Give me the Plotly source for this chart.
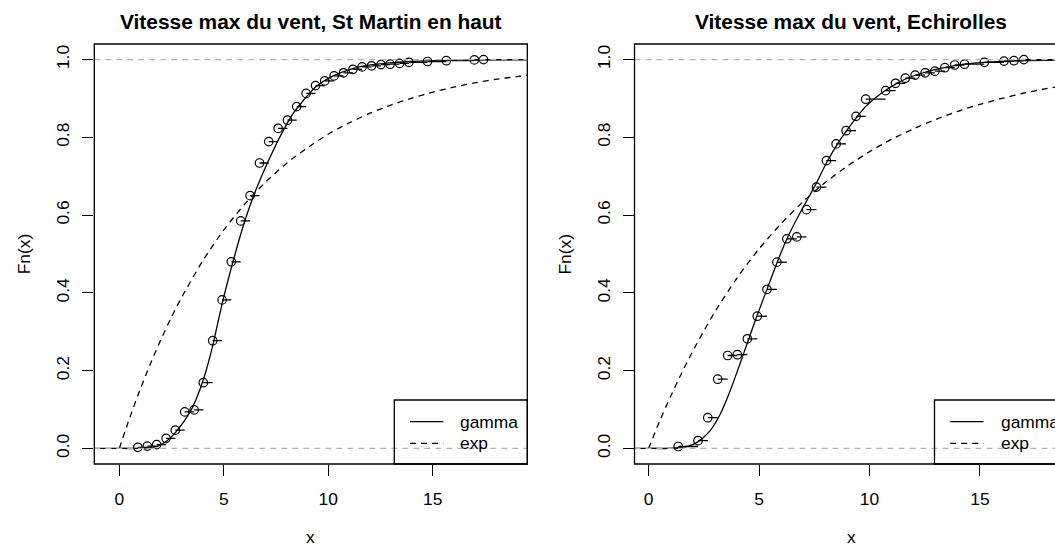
import plotly.graph_objects as go

W, H = 1055, 546

# ---------------- data ----------------
# St Martin en haut : empirical CDF knots and values
sm_x = [0.89, 1.34, 1.79, 2.24, 2.68, 3.13, 3.58, 4.02, 4.47, 4.92, 5.36, 5.81,
        6.26, 6.71, 7.15, 7.60, 8.05, 8.49, 8.94, 9.39, 9.83, 10.28, 10.73, 11.18,
        11.62, 12.07, 12.52, 12.96, 13.41, 13.86, 14.75, 15.65, 16.99, 17.43]
sm_y = [0.003, 0.006, 0.010, 0.026, 0.047, 0.094, 0.099, 0.169, 0.277, 0.382, 0.480, 0.585,
        0.650, 0.734, 0.789, 0.823, 0.844, 0.879, 0.913, 0.933, 0.945, 0.958, 0.966, 0.975,
        0.981, 0.984, 0.987, 0.988, 0.990, 0.993, 0.995, 0.997, 0.999, 1.000]
# fitted gamma CDF (solid)
sm_gamma_x = [0, 0.97, 1.40, 1.85, 2.33, 2.76, 3.37, 3.70, 4.04, 4.46, 4.92, 5.45, 5.96,
              6.36, 6.89, 7.37, 7.85, 8.33, 8.97, 9.45, 10.24, 11.05, 11.85, 12.81, 13.92,
              15.84, 17.44, 20.0]
sm_gamma_y = [0, 0.000, 0.002, 0.006, 0.022, 0.046, 0.092, 0.130, 0.180, 0.262, 0.372, 0.482, 0.577,
              0.640, 0.710, 0.767, 0.818, 0.862, 0.905, 0.932, 0.958, 0.975, 0.985, 0.991, 0.995,
              0.998, 0.999, 1.000]
# fitted exponential CDF (dashed)
sm_exp_x = [0, 0.5, 1, 1.5, 2, 2.5, 3, 4, 5, 6, 7, 8, 9, 10, 11, 12, 13, 14, 15, 16, 17, 18, 19, 20]
sm_exp_y = [0, 0.079, 0.152, 0.219, 0.281, 0.338, 0.390, 0.483, 0.562, 0.628, 0.685, 0.733,
            0.773, 0.808, 0.837, 0.862, 0.883, 0.901, 0.916, 0.929, 0.940, 0.949, 0.956, 0.963]

# Echirolles
ec_x = [1.34, 2.24, 2.68, 3.13, 3.58, 4.02, 4.47, 4.92, 5.36, 5.81, 6.26, 6.71, 7.15, 7.60,
        8.05, 8.49, 8.94, 9.39, 9.83, 10.73, 11.18, 11.62, 12.07, 12.52, 12.96, 13.41,
        13.86, 14.30, 15.20, 16.09, 16.54, 16.99]
ec_y = [0.005, 0.020, 0.079, 0.178, 0.239, 0.241, 0.282, 0.340, 0.409, 0.479, 0.539, 0.544,
        0.614, 0.672, 0.740, 0.783, 0.817, 0.854, 0.898, 0.920, 0.939, 0.952, 0.960, 0.966,
        0.970, 0.979, 0.986, 0.988, 0.993, 0.996, 0.997, 1.000]
ec_gamma_x = [0, 1.00, 1.34, 1.80, 2.18, 2.78, 3.24, 3.69, 4.14, 4.45, 4.90, 5.36, 5.81, 6.27,
              6.71, 7.15, 7.60, 8.05, 8.54, 8.99, 9.37, 9.82, 10.28, 10.73, 11.18, 11.63,
              12.54, 13.43, 14.29, 15.20, 17.00, 19.50]
ec_gamma_y = [0, 0.000, 0.002, 0.006, 0.015, 0.045, 0.088, 0.148, 0.218, 0.268, 0.340, 0.409, 0.477, 0.540,
              0.590, 0.636, 0.683, 0.734, 0.782, 0.819, 0.848, 0.879, 0.902, 0.921, 0.937, 0.950,
              0.968, 0.980, 0.988, 0.993, 0.997, 0.999]
ec_exp_x = [0, 0.5, 1, 1.5, 2, 2.5, 3, 4, 5, 6, 7, 8, 9, 10, 11, 12, 13, 14, 15, 16, 17, 18, 19, 20]
ec_exp_y = [0, 0.070, 0.134, 0.194, 0.250, 0.302, 0.351, 0.438, 0.513, 0.578, 0.635, 0.684,
            0.726, 0.763, 0.795, 0.822, 0.846, 0.867, 0.885, 0.900, 0.914, 0.925, 0.935, 0.944]

titles = ["Vitesse max du vent, St Martin en haut", "Vitesse max du vent, Echirolles"]
legend_labels = ["gamma", "exp"]
x_ticks = [0, 5, 10, 15]
y_ticks = [0.0, 0.2, 0.4, 0.6, 0.8, 1.0]
y_ticktext = ["0.0", "0.2", "0.4", "0.6", "0.8", "1.0"]

# ---------------- layout geometry (pixels) ----------------
FONT = "Liberation Sans, Arial, Helvetica, sans-serif"
FS = 17.4
LW = 1.3
BOX_TOP, BOX_BOT = 44, 464
panels = [
    dict(left=94.3, right=527.3, xr=[-1.196, 19.524]),
    dict(left=634.5, right=1067.5, xr=[-0.637, 18.964]),
]


def fx(px):
    return px / W


def fy(py):
    return 1 - py / H


def steps(xs, ys, lo=-5, hi=40):
    sx, sy = [lo, xs[0], None], [0, 0, None]
    for i in range(len(xs)):
        nxt = xs[i + 1] if i + 1 < len(xs) else hi
        sx += [xs[i], nxt, None]
        sy += [ys[i], ys[i], None]
    return sx, sy


fig = go.Figure()
shapes, annos = [], []
datasets = [(sm_x, sm_y, sm_gamma_x, sm_gamma_y, sm_exp_x, sm_exp_y),
            (ec_x, ec_y, ec_gamma_x, ec_gamma_y, ec_exp_x, ec_exp_y)]

for i, (p, d) in enumerate(zip(panels, datasets)):
    xa = "x" if i == 0 else "x2"
    ya = "y" if i == 0 else "y2"
    kx, ky, gx, gy, ex, ey = d
    # reference lines 0 and 1
    for h in (0, 1):
        shapes.append(dict(type="line", xref=f"{xa} domain", yref=ya, x0=0, x1=1, y0=h, y1=h,
                           line=dict(color="#b3b3b3", width=LW, dash="6px,5px"), layer="above"))
    sx, sy = steps(kx, ky)
    fig.add_trace(go.Scatter(x=sx, y=sy, mode="lines", xaxis=xa, yaxis=ya,
                             line=dict(color="black", width=LW), hoverinfo="skip", showlegend=False))
    fig.add_trace(go.Scatter(x=kx, y=ky, mode="markers", xaxis=xa, yaxis=ya,
                             marker=dict(symbol="circle-open", size=8.5, color="black",
                                         line=dict(width=1.2, color="black")),
                             showlegend=False, cliponaxis=True))
    fig.add_trace(go.Scatter(x=gx, y=gy, mode="lines", xaxis=xa, yaxis=ya,
                             line=dict(color="black", width=LW, shape="spline", smoothing=0.8),
                             showlegend=False))
    fig.add_trace(go.Scatter(x=ex, y=ey, mode="lines", xaxis=xa, yaxis=ya,
                             line=dict(color="black", width=LW, dash="6px,5px", shape="spline", smoothing=0.8),
                             showlegend=False))
    # box
    shapes.append(dict(type="rect", xref="paper", yref="paper",
                       x0=fx(p["left"]), x1=fx(p["right"]), y0=fy(BOX_BOT), y1=fy(BOX_TOP),
                       line=dict(color="black", width=LW), layer="above"))
    # legend (bottom right)
    lg_l = p["right"] - 133
    shapes.append(dict(type="rect", xref="paper", yref="paper",
                       x0=fx(lg_l), x1=fx(p["right"]), y0=fy(BOX_BOT), y1=fy(400),
                       line=dict(color="black", width=LW), fillcolor="rgba(0,0,0,0)", layer="above"))
    for j, (lab, yy, dash) in enumerate(zip(legend_labels, [421.7, 443.3], ["solid", "6px,5px"])):
        shapes.append(dict(type="line", xref="paper", yref="paper",
                           x0=fx(lg_l + 15.7), x1=fx(lg_l + 49), y0=fy(yy), y1=fy(yy),
                           line=dict(color="black", width=LW, dash=dash), layer="above"))
        annos.append(dict(text=lab, xref="paper", yref="paper", x=fx(lg_l + 64), y=fy(yy),
                          xanchor="left", yanchor="middle", showarrow=False,
                          font=dict(family=FONT, size=FS, color="black")))
    cx = (p["left"] + p["right"]) / 2
    annos.append(dict(text=f"<b>{titles[i]}</b>", xref="paper", yref="paper", x=fx(cx), y=fy(22),
                      xanchor="center", yanchor="middle", showarrow=False,
                      font=dict(family=FONT, size=20.9, color="black")))
    annos.append(dict(text="x", xref="paper", yref="paper", x=fx(cx), y=fy(537),
                      xanchor="center", yanchor="middle", showarrow=False,
                      font=dict(family=FONT, size=FS, color="black")))
    annos.append(dict(text="Fn(x)", xref="paper", yref="paper", x=fx(p["left"] - 70),
                      y=fy((BOX_TOP + BOX_BOT) / 2), textangle=-90,
                      xanchor="center", yanchor="middle", showarrow=False,
                      font=dict(family=FONT, size=FS, color="black")))

ydom = [fy(BOX_BOT), fy(BOX_TOP)]
common_x = dict(tickmode="array", tickvals=x_ticks, ticks="outside", ticklen=11, tickwidth=LW,
                tickcolor="black", showgrid=False, zeroline=False, showline=False,
                tickfont=dict(family=FONT, size=FS, color="black"), ticklabelstandoff=8,
                anchor=None)
common_y = dict(tickmode="array", tickvals=y_ticks, ticktext=y_ticktext, ticks="outside",
                ticklen=11, tickwidth=LW, tickcolor="black", showgrid=False, zeroline=False,
                showline=False, tickangle=-90, range=[-0.04, 1.04], domain=ydom,
                tickfont=dict(family=FONT, size=FS, color="black"), ticklabelstandoff=6)

fig.update_layout(
    width=W, height=H, autosize=False,
    margin=dict(l=0, r=0, t=0, b=0),
    paper_bgcolor="white", plot_bgcolor="white",
    showlegend=False,
    xaxis=dict(common_x, domain=[fx(panels[0]["left"]), fx(panels[0]["right"])],
               range=panels[0]["xr"], anchor="y"),
    xaxis2=dict(common_x, domain=[fx(panels[1]["left"]), 1.0],
                range=[panels[1]["xr"][0],
                       panels[1]["xr"][0] + (W - panels[1]["left"]) / (panels[1]["right"] - panels[1]["left"])
                       * (panels[1]["xr"][1] - panels[1]["xr"][0])],
                anchor="y2"),
    yaxis=dict(common_y, anchor="x"),
    yaxis2=dict(common_y, anchor="x2"),
    shapes=shapes,
    annotations=annos,
)

fig.write_html("out.html")
